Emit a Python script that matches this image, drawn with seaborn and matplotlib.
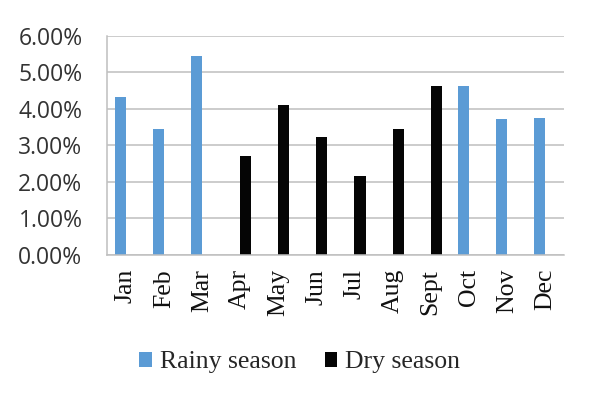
import numpy as np
import pandas as pd
import matplotlib
matplotlib.use("Agg")
import matplotlib.pyplot as plt
from matplotlib.patches import Patch
from matplotlib.ticker import FuncFormatter, MultipleLocator, FixedLocator
import seaborn as sns

# Monthly share (%) by season
months = ["Jan", "Feb", "Mar", "Apr", "May", "Jun", "Jul", "Aug", "Sept", "Oct", "Nov", "Dec"]
season = ["Rainy season", "Rainy season", "Rainy season", "Dry season", "Dry season", "Dry season",
          "Dry season", "Dry season", "Dry season", "Rainy season", "Rainy season", "Rainy season"]
share = [4.31, 3.44, 5.44, 2.71, 4.10, 3.24, 2.15, 3.44, 4.63, 4.63, 3.72, 3.76]
seasons = ["Rainy season", "Dry season"]
colors = ["#5b9bd5", "#050505"]

df = pd.DataFrame({"month": months, "season": season, "share": share})

sns.set_theme(style="white")
plt.rcParams["font.family"] = ["DejaVu Sans"]

fig = plt.figure(figsize=(5.9, 3.96), dpi=100)
ax = fig.add_axes([0.181, 0.356, 0.775, 0.554])

sns.barplot(data=df, x="month", y="share", hue="season", order=months,
            hue_order=seasons, palette=colors, saturation=1, dodge=True, width=0.58, gap=0,
            legend=False, errorbar=None, linewidth=0, ax=ax)

ax.set_ylim(0, 6)
ax.set_xlim(-0.5, len(months) - 0.5)
ax.yaxis.set_major_locator(MultipleLocator(1))
ax.yaxis.set_major_formatter(FuncFormatter(lambda v, _: f"{v:.2f}%"))
ax.grid(axis="y", color="#bfbfbf", linewidth=1.1)
ax.set_axisbelow(True)
ax.set_xlabel("")
ax.set_ylabel("")

for s in ["top", "right"]:
    ax.spines[s].set_visible(False)
for s in ["left", "bottom"]:
    ax.spines[s].set_color("#bfbfbf")
    ax.spines[s].set_linewidth(1.1)

# y ticks: outward grey marks
ax.tick_params(axis="y", which="major", direction="out", length=6.5, width=1.1,
               color="#bfbfbf", pad=11, labelsize=16.5, labelcolor="#333333")
for lbl in ax.get_yticklabels():
    lbl.set_fontfamily("Open Sans")

# x ticks: marks on category boundaries, labels at centres
ax.xaxis.set_minor_locator(FixedLocator(np.arange(-0.5, len(months), 1.0)))
ax.tick_params(axis="x", which="major", length=0, pad=10)
ax.tick_params(axis="x", which="minor", direction="out", length=5, width=1.1, color="#bfbfbf")
ax.set_xticks(range(len(months)))
ax.set_xticklabels(months, rotation=90, fontfamily="Liberation Serif", fontsize=18.5, color="#111111")

handles = [Patch(facecolor=c, edgecolor="none", label=s) for s, c in zip(seasons, colors)]
fig.legend(handles=handles, loc="center", bbox_to_anchor=(0.508, 0.085), ncol=2, frameon=False,
           prop={"family": "Liberation Serif", "size": 18.5}, handlelength=0.5, handleheight=0.5,
           handletextpad=0.3, columnspacing=1.1)

fig.savefig("out.png", dpi=100)
